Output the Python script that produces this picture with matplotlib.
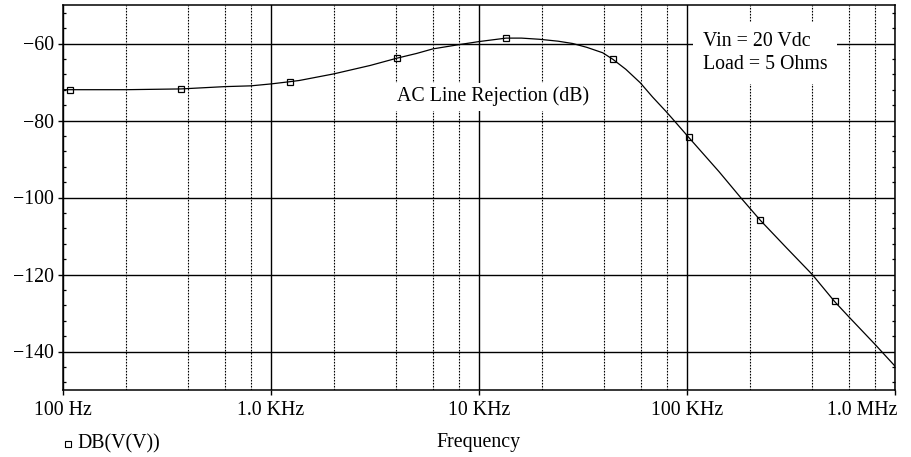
import matplotlib
matplotlib.use("Agg")
import matplotlib.pyplot as plt
import matplotlib.transforms as mtrans

# AC line rejection of the regulator, simulated response (dB vs. frequency)
freq_hz = [100, 108, 200, 369, 400, 600, 800, 1000, 1240, 1370, 2000, 3000,
           4040, 5000, 6000, 8000, 10000, 13500, 16000, 19500, 24000, 28200,
           33000, 39300, 44000, 50800, 59600, 68300, 79100, 85000, 102000,
           142600, 181000, 225000, 300000, 400000, 512000, 600000, 800000, 1000000]
gain_db = [-72.0, -72.0, -72.0, -71.8, -71.7, -71.2, -71.0, -70.5, -69.9, -69.6,
           -67.9, -65.7, -63.8, -62.6, -61.4, -60.3, -59.5, -58.6, -58.6, -58.9,
           -59.4, -60.0, -61.0, -62.4, -64.1, -66.7, -70.2, -73.9, -77.6, -79.5,
           -84.4, -93.3, -100.0, -105.9, -113.0, -120.0, -127.0, -131.0, -138.1,
           -143.8]

# sample markers drawn on the trace
marker_hz = [108, 369, 1240, 4040, 13500, 44000, 102000, 225000, 512000]
marker_db = [-72.0, -71.8, -69.9, -63.8, -58.6, -64.1, -84.4, -105.9, -127.0]

x_ticks = [1e2, 1e3, 1e4, 1e5, 1e6]
x_tick_labels = ["100 Hz", "1.0 KHz", "10 KHz", "100 KHz", "1.0 MHz"]
y_ticks = [-60, -80, -100, -120, -140]

W, H = 912, 457
plt.rcParams["font.family"] = ["Liberation Serif", "DejaVu Serif"]
FS = 14.3

fig = plt.figure(figsize=(W / 100, H / 100), dpi=100)
ax = fig.add_axes([63 / W, 1 - 390 / H, (895 - 63) / W, (390 - 5) / H])

ax.plot(freq_hz, gain_db, color="black", lw=0.9, zorder=3)
ax.plot(marker_hz, marker_db, ls="none", marker="s", ms=4.6, mfc="none",
        mec="black", mew=0.9, zorder=4)

ax.set_xscale("log")
ax.set_xlim(1e2, 1e6)
ax.set_ylim(-150, -50)

# x axis: solid decades, dotted 2/4/6/8 lines
minor_x = [m * d for d in (1e2, 1e3, 1e4, 1e5) for m in (2, 4, 6, 8)]
ax.set_xticks(x_ticks)
ax.set_xticklabels(x_tick_labels, fontsize=FS)
ax.set_xticks(minor_x, minor=True)
ax.xaxis.set_minor_formatter(plt.NullFormatter())

ax.set_yticks(y_ticks)
ax.set_yticklabels([f"\u2212{abs(v)}" for v in y_ticks], fontsize=FS)
minor_y = [v for v in range(-148, -50, 4) if v % 20 != 0]
ax.set_yticks(minor_y, minor=True)

ax.tick_params(axis="x", which="major", direction="out", length=3.6, width=1.0,
               pad=4, top=False, bottom=True)
ax.tick_params(axis="x", which="minor", length=0)
ax.tick_params(axis="y", which="major", direction="out", length=3.6, width=1.0,
               pad=3, left=True, right=False)
ax.tick_params(axis="y", which="minor", direction="in", length=2.4, width=0.9,
               left=True, right=True)

ax.xaxis.grid(True, which="major", color="black", lw=1.0, ls="-")
ax.xaxis.grid(True, which="minor", color="black", lw=0.8, ls=(0, (1.5, 1.2)))
ax.yaxis.grid(True, which="major", color="black", lw=1.0, ls="-")
ax.set_axisbelow(True)

for s in ax.spines.values():
    s.set_linewidth(1.1)
    s.set_color("black")

# right-most tick label sits inside the frame edge
last = ax.get_xticklabels()[-1]
last.set_horizontalalignment("right")
last.set_transform(last.get_transform() + mtrans.ScaledTranslation(3 / 100, 0, fig.dpi_scale_trans))

box = dict(facecolor="white", edgecolor="none", pad=3)
ax.text(11700, -73.8, "AC Line Rejection (dB)", fontsize=FS, ha="center",
        va="center", bbox=box, zorder=5)
ax.text(119000, -62.5, "Vin = 20 Vdc\nLoad = 5 Ohms", fontsize=FS, ha="left",
        va="center", linespacing=1.3, bbox=dict(facecolor="white", edgecolor="none", pad=7),
        zorder=5)

# legend entry and axis title below the plot
fig.lines.append(plt.Line2D([68 / W], [1 - 444 / H], transform=fig.transFigure,
                            ls="none", marker="s", ms=4.2, mfc="none", mec="black", mew=0.8))
fig.text(77 / W, 1 - 444 / H, "DB(V(V))", fontsize=FS, ha="left", va="center")
fig.text(478 / W, 1 - 443 / H, "Frequency", fontsize=FS, ha="center", va="center")

fig.savefig("out.png", dpi=100)
